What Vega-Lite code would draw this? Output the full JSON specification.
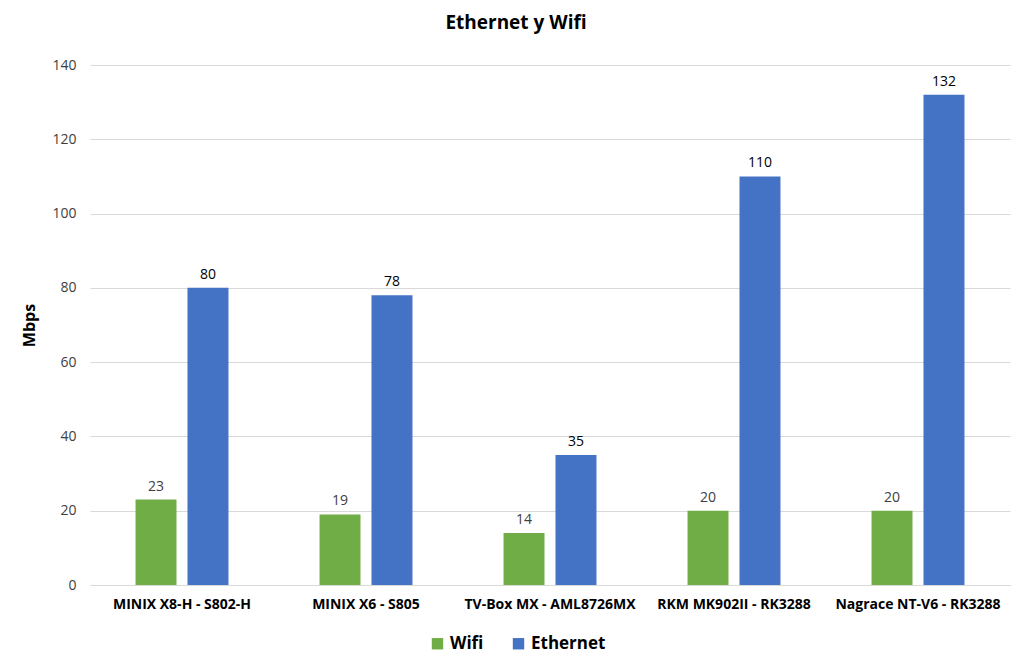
{
  "$schema": "https://vega.github.io/schema/vega-lite/v6.json",
  "width": 920,
  "height": 520,
  "autosize": "none",
  "padding": {"left": 90, "top": 65, "right": 14, "bottom": 81},
  "background": "white",
  "config": {
    "font": "Open Sans",
    "view": {"stroke": null}
  },
  "title": {
    "text": "Ethernet y Wifi",
    "fontSize": 19,
    "fontWeight": "bold",
    "color": "#000000",
    "anchor": "middle",
    "frame": "bounds",
    "offset": 25
  },
  "data": {
    "values": [
      {"device": "MINIX X8-H - S802-H", "type": "Wifi", "mbps": 23},
      {"device": "MINIX X8-H - S802-H", "type": "Ethernet", "mbps": 80},
      {"device": "MINIX X6 - S805", "type": "Wifi", "mbps": 19},
      {"device": "MINIX X6 - S805", "type": "Ethernet", "mbps": 78},
      {"device": "TV-Box MX - AML8726MX", "type": "Wifi", "mbps": 14},
      {"device": "TV-Box MX - AML8726MX", "type": "Ethernet", "mbps": 35},
      {"device": "RKM MK902II - RK3288", "type": "Wifi", "mbps": 20},
      {"device": "RKM MK902II - RK3288", "type": "Ethernet", "mbps": 110},
      {"device": "Nagrace NT-V6 - RK3288", "type": "Wifi", "mbps": 20},
      {"device": "Nagrace NT-V6 - RK3288", "type": "Ethernet", "mbps": 132}
    ]
  },
  "encoding": {
    "x": {
      "field": "device",
      "type": "nominal",
      "sort": null,
      "scale": {"paddingInner": 0.495, "paddingOuter": 0.2475},
      "axis": {
        "title": null,
        "labelAngle": 0,
        "labelFontSize": 14,
        "labelFontWeight": "bold",
        "labelColor": "#000000",
        "labelPadding": 12,
        "ticks": false,
        "domainColor": "#d9d9d9",
        "domainWidth": 1
      }
    },
    "xOffset": {
      "field": "type",
      "type": "nominal",
      "scale": {"domain": ["Wifi", "Ethernet"], "paddingInner": 0.2115, "paddingOuter": 0}
    },
    "y": {
      "field": "mbps",
      "type": "quantitative",
      "scale": {"domain": [0, 140]},
      "axis": {
        "title": "Mbps",
        "titleFontSize": 16,
        "titleFontWeight": "bold",
        "titleColor": "#000000",
        "titlePadding": 14,
        "values": [0, 20, 40, 60, 80, 100, 120, 140],
        "labelFontSize": 14,
        "labelColor": "#404040",
        "labelPadding": 14,
        "ticks": false,
        "domain": false,
        "gridColor": "#d9d9d9",
        "gridWidth": 1
      }
    }
  },
  "layer": [
    {
      "mark": {"type": "bar"},
      "encoding": {
        "color": {
          "field": "type",
          "type": "nominal",
          "scale": {"domain": ["Wifi", "Ethernet"], "range": ["#70AD47", "#4472C4"]},
          "legend": {
            "title": null,
            "orient": "none",
            "direction": "horizontal",
            "legendX": 339,
            "legendY": 570,
            "symbolType": "square",
            "symbolSize": 130,
            "symbolStrokeWidth": 0,
            "labelFontSize": 17,
            "labelFontWeight": "bold",
            "labelColor": "#000000",
            "columnPadding": 26,
            "labelOffset": 4
          }
        }
      }
    },
    {
      "mark": {"type": "text", "baseline": "bottom", "dy": -6, "fontSize": 14},
      "encoding": {
        "text": {"field": "mbps", "type": "quantitative"},
        "color": {
          "condition": {"test": "datum.type === 'Wifi'", "value": "#404040"},
          "value": "#000000"
        }
      }
    }
  ]
}
